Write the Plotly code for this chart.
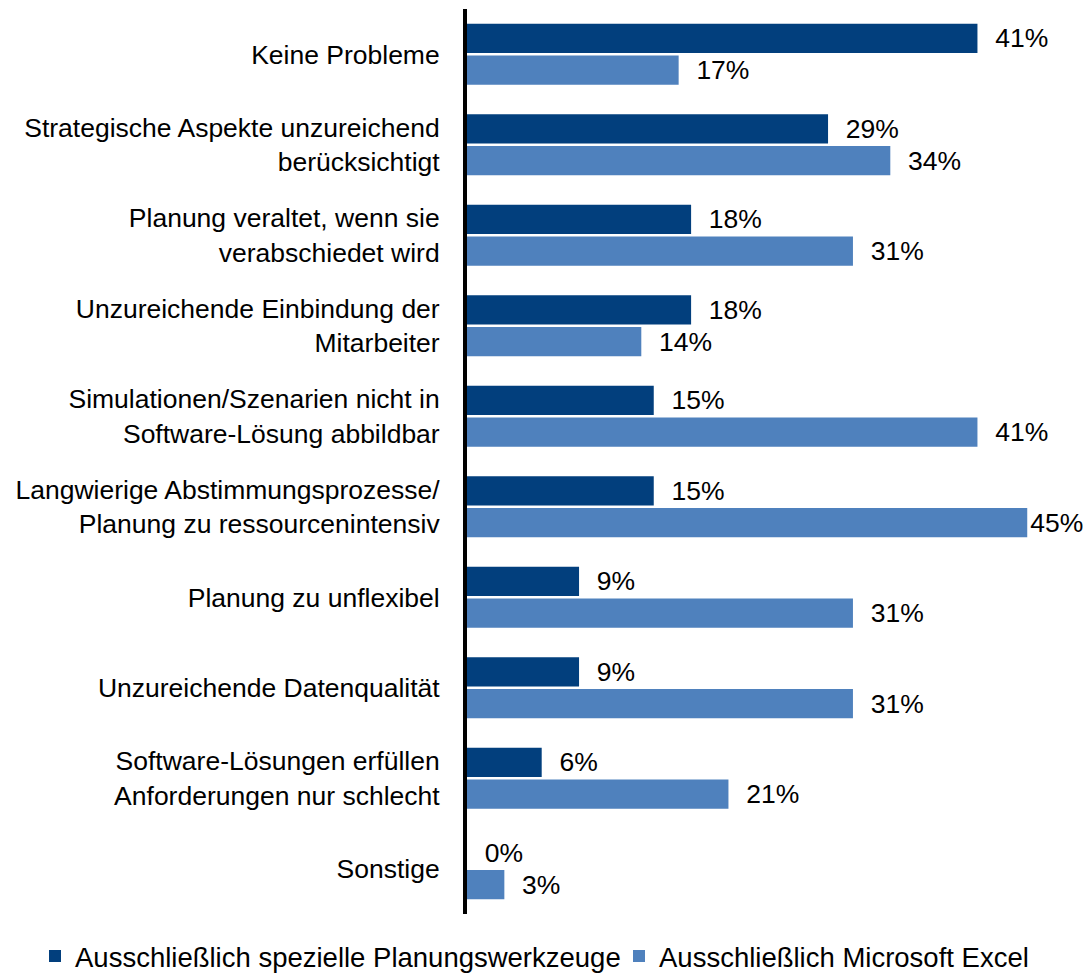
import plotly.graph_objects as go

categories = [
    "Keine Probleme",
    "Strategische Aspekte unzureichend<br>berücksichtigt",
    "Planung veraltet, wenn sie<br>verabschiedet wird",
    "Unzureichende Einbindung der<br>Mitarbeiter",
    "Simulationen/Szenarien nicht in<br>Software-Lösung abbildbar",
    "Langwierige Abstimmungsprozesse/<br>Planung zu ressourcenintensiv",
    "Planung zu unflexibel",
    "Unzureichende Datenqualität",
    "Software-Lösungen erfüllen<br>Anforderungen nur schlecht",
    "Sonstige",
]
series_names = [
    "Ausschließlich spezielle Planungswerkzeuge",
    "Ausschließlich Microsoft Excel",
]
values_tools = [41, 29, 18, 18, 15, 15, 9, 9, 6, 0]
values_excel = [17, 34, 31, 14, 41, 45, 31, 31, 21, 3]

colors = ["#023F7D", "#4F81BD"]
FONT = "Arial, Liberation Sans, sans-serif"
X_MAX = 49.88


def label_templates(vals):
    # labels near the right edge sit tight against the bar end (as in the original)
    return ["%{x}%" if v > 0.88 * X_MAX else "\u00a0\u00a0%{x}%" for v in vals]


legend_refs = ["legend", "legend2"]
fig = go.Figure()
for name, vals, col, lg in zip(series_names, [values_tools, values_excel], colors, legend_refs):
    fig.add_trace(go.Bar(
        y=categories,
        x=vals,
        name=name,
        orientation="h",
        marker=dict(color=col, line=dict(width=0)),
        texttemplate=label_templates(vals),
        textposition="outside",
        textfont=dict(family=FONT, size=26.5, color="#000000"),
        cliponaxis=False,
        constraintext="none",
        legend=lg,
    ))

legend_common = dict(
    orientation="h",
    xref="container",
    yref="container",
    xanchor="left",
    y=(975 - 956) / 975,
    yanchor="middle",
    font=dict(family=FONT, size=27.5, color="#000000"),
    itemclick=False,
    bgcolor="rgba(0,0,0,0)",
    borderwidth=0,
)

fig.update_layout(
    width=1088,
    height=975,
    margin=dict(l=467, r=0, t=9, b=61, autoexpand=False),
    paper_bgcolor="white",
    plot_bgcolor="white",
    barmode="group",
    bargap=0.30,
    bargroupgap=0.08,
    font=dict(family=FONT, size=26.5, color="#000000"),
    showlegend=True,
    legend=dict(x=35 / 1088, **legend_common),
    legend2=dict(x=619 / 1088, **legend_common),
    xaxis=dict(
        range=[0, X_MAX],
        showgrid=False,
        zeroline=False,
        showline=False,
        showticklabels=False,
        ticks="",
        automargin=False,
    ),
    yaxis=dict(
        autorange="reversed",
        showgrid=False,
        zeroline=False,
        showline=True,
        linecolor="#000000",
        linewidth=4,
        ticks="",
        ticklabelstandoff=18,
        tickfont=dict(family=FONT, size=26.5, color="#000000"),
        automargin=False,
    ),
)

fig.write_html(
    "out.html",
    config={"displayModeBar": False},
    post_script="document.body.style.margin='0';document.body.style.overflow='hidden';",
)
